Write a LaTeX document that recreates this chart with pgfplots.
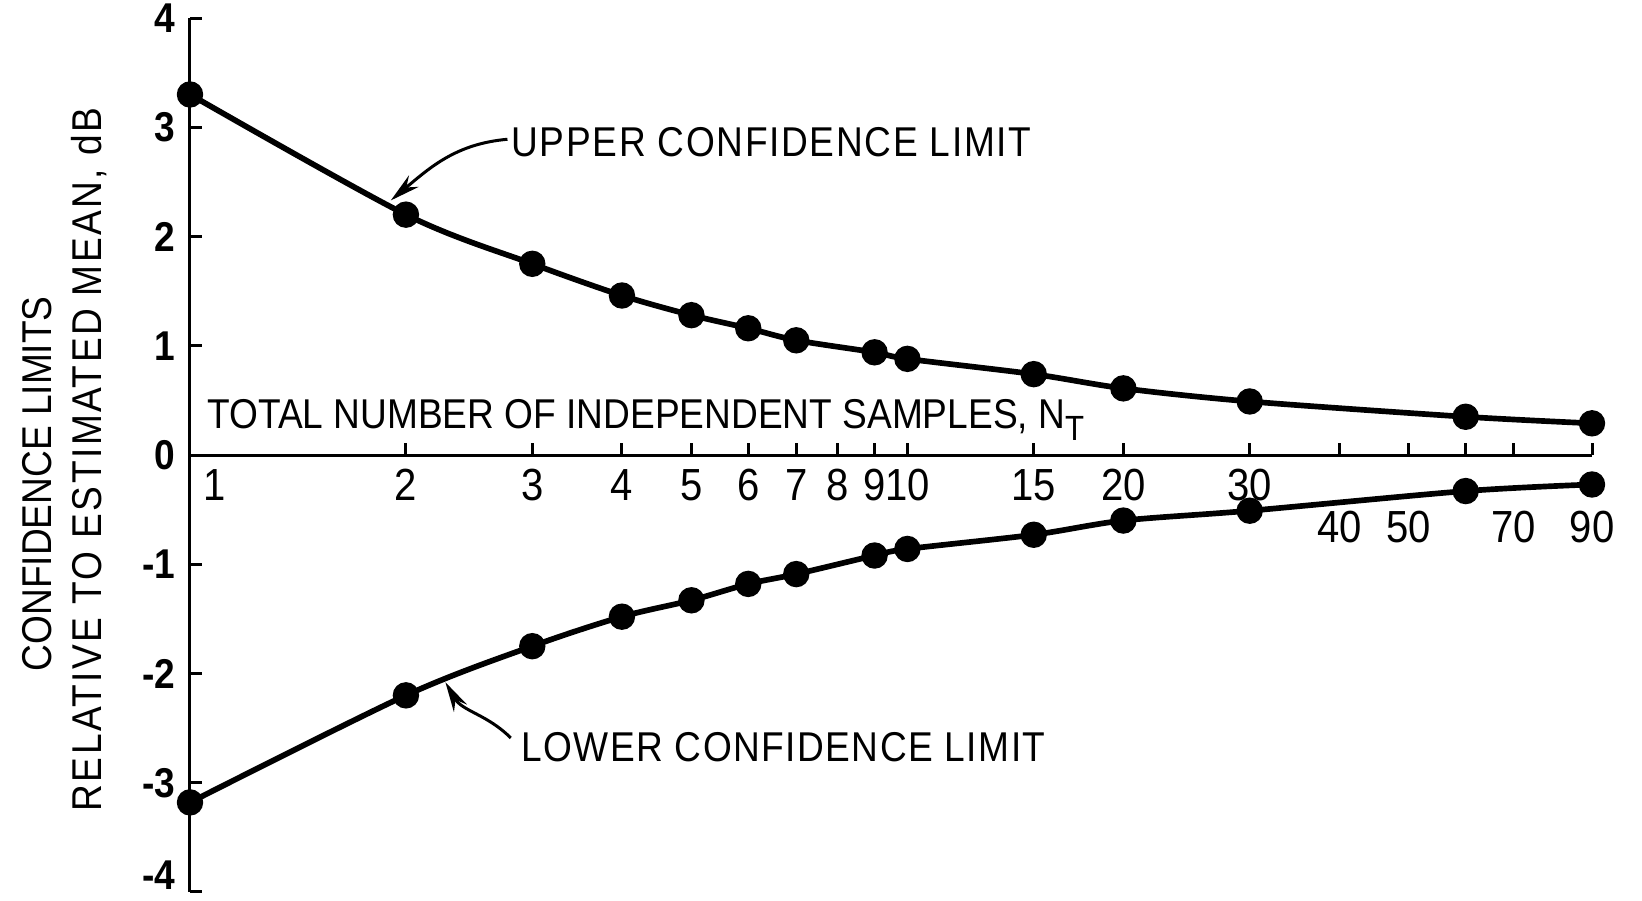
\documentclass[border=0pt]{standalone}
\usepackage{fontspec}
\setmainfont{Liberation Sans}[FakeStretch=0.89]
\usepackage{pgfplots}
\pgfplotsset{compat=1.18}
\usetikzlibrary{arrows.meta}

\begin{document}
\begin{tikzpicture}
\fontsize{12.5}{15.6}\selectfont
\begin{semilogxaxis}[
    name=ax,
    scale only axis,
    width=420.6pt, height=262.2pt,
    xmin=1, xmax=90, ymin=-4, ymax=4,
    axis x line=middle, axis y line=left,
    axis line style={-, line width=0.9pt},
    hide obscured x ticks=false, hide obscured y ticks=false,
    xtick={1,2,3,4,5,6,7,8,9,10,15,20,30,60},
    xticklabels={\hspace*{15pt}1,2,3,4,5,6,7,8,9,10,15,20,30,{}},
    extra x ticks={40,50,70,90},
    extra x tick labels={40,50,70,90},
    extra x tick style={tick label style={yshift=-12.5pt}},
    xminorticks=false,
    ytick={-3,-2,-1,0,1,2,3,4},
    yticklabels={-3,-2,-1,0,1,2,3,4},
    extra y ticks={-4},
    extra y tick labels={-4},
    extra y tick style={tick label style={yshift=5pt}},
    yticklabel style={font=\fontsize{12.5}{15}\selectfont\bfseries},
    xticklabel style={font=\fontsize{13.5}{15}\selectfont},
    tick align=inside,
    major tick length=3.5pt,
    tick style={black, line width=0.9pt},
    clip=false,
]

% upper limit
\addplot[black, line width=1.7pt, smooth, mark=*, mark size=3.1pt] coordinates {
    (1,3.30) (2,2.20) (3,1.75) (4,1.46) (5,1.28) (6,1.16) (7,1.05)
    (9,0.94) (10,0.88) (15,0.74) (20,0.61) (30,0.49) (60,0.35) (90,0.29)
};

% lower limit
\addplot[black, line width=1.7pt, smooth, mark=*, mark size=3.1pt] coordinates {
    (1,-3.18) (2,-2.20) (3,-1.75) (4,-1.48) (5,-1.33) (6,-1.18) (7,-1.09)
    (9,-0.92) (10,-0.86) (15,-0.73) (20,-0.60) (30,-0.51) (60,-0.33) (90,-0.27)
};

% y axis title, two lines
\node[rotate=90, anchor=center] at (axis description cs:-0.1093,0.467)
    {CONFIDENCE LIMITS};
\node[rotate=90, anchor=center] at (axis description cs:-0.072,0.4946)
    {\addfontfeature{LetterSpace=6}RELATIVE TO ESTIMATED MEAN, dB};

\node[anchor=base west, inner sep=0pt, xshift=5pt] at (axis cs:1,0.24)
    {TOTAL NUMBER OF INDEPENDENT SAMPLES, N\raisebox{-3.5pt}{\fontsize{10.5}{12}\selectfont T}};

\node[anchor=base west, inner sep=0pt] at (axis cs:2.80,2.73)
    {\addfontfeature{LetterSpace=4}UPPER CONFIDENCE LIMIT};
\node[anchor=base west, inner sep=0pt] at (axis cs:2.89,-2.81)
    {\addfontfeature{LetterSpace=3.5}LOWER CONFIDENCE LIMIT};

\draw[-{Stealth[length=9pt,width=4.5pt]}, line width=0.9pt]
    (axis cs:2.77,2.89) to[out=185,in=40] (axis cs:1.905,2.33);
\draw[-{Stealth[length=9pt,width=4.5pt]}, line width=0.9pt]
    (axis cs:2.80,-2.59) to[out=135,in=-60] (axis cs:2.27,-2.08);
\end{semilogxaxis}
\pgfresetboundingbox
\useasboundingbox ([shift={(-57pt,-2.7pt)}]ax.south west) rectangle ([shift={(15pt,5.4pt)}]ax.north east);
\end{tikzpicture}
\end{document}
